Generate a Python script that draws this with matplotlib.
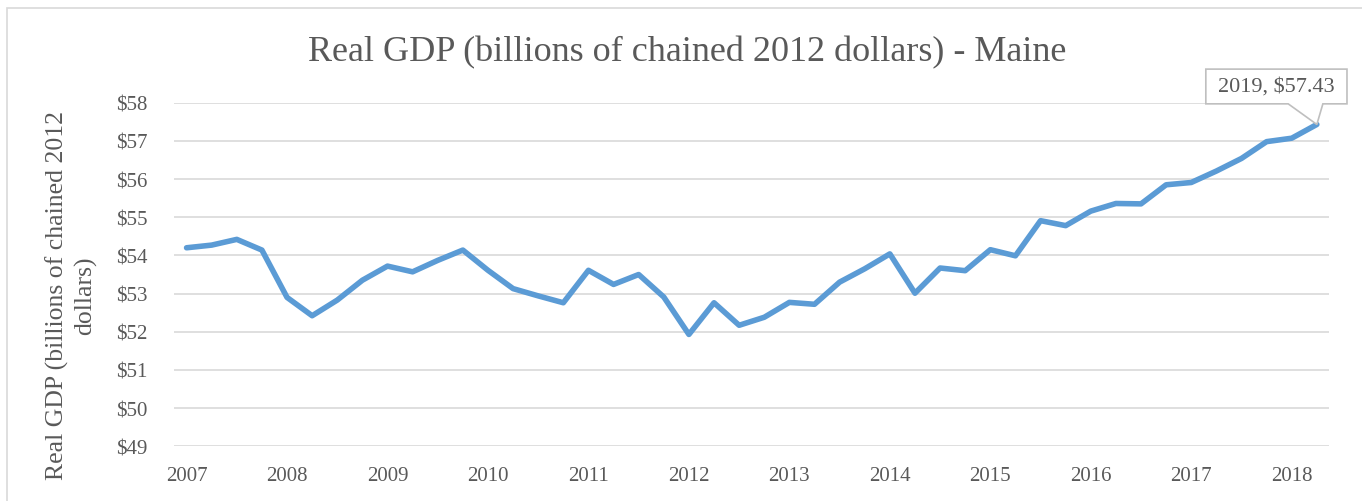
import matplotlib
matplotlib.use("Agg")
import matplotlib.pyplot as plt
from matplotlib.patches import Polygon, Rectangle

# quarterly real GDP, 2007 Q1 .. 2018 Q2
years = ["2007", "2008", "2009", "2010", "2011", "2012",
         "2013", "2014", "2015", "2016", "2017", "2018"]
gdp = [54.20, 54.27, 54.42, 54.14, 52.90, 52.42, 52.83, 53.35,
       53.72, 53.57, 53.87, 54.14, 53.61, 53.13, 52.94, 52.76,
       53.61, 53.24, 53.50, 52.91, 51.93, 52.76, 52.17, 52.38,
       52.77, 52.72, 53.30, 53.65, 54.04, 53.01, 53.67, 53.60,
       54.15, 53.99, 54.91, 54.78, 55.16, 55.36, 55.35, 55.85,
       55.91, 56.21, 56.54, 56.98, 57.07, 57.43]
yticks = [49, 50, 51, 52, 53, 54, 55, 56, 57, 58]
last_label = "2019, $57.43"

grey = "#595959"
plt.rcParams['font.family'] = ['Liberation Serif', 'DejaVu Serif']

fig = plt.figure(figsize=(13.62, 5.02), dpi=100)
ax = fig.add_axes([174 / 1362, 1 - 447.3 / 502,
                   (1329.4 - 174) / 1362, (447.3 - 103.7) / 502])

x = list(range(len(gdp)))
ax.plot(x, gdp, color="#5B9BD5", lw=4.0, solid_capstyle="round",
        solid_joinstyle="round", zorder=3)

ax.set_xlim(-0.5, len(gdp) - 0.5)
ax.set_ylim(yticks[0], yticks[-1])
ax.set_yticks(yticks)
ax.set_yticklabels([f"${v}" for v in yticks])
ax.set_xticks(range(0, 4 * len(years), 4))
ax.set_xticklabels(years)
ax.tick_params(axis="both", length=0, labelsize=15, colors=grey)
ax.tick_params(axis="x", pad=14)
ax.tick_params(axis="y", pad=19)
ax.grid(axis="y", color="#d9d9d9", lw=1.2)
ax.set_axisbelow(True)
for s in ax.spines.values():
    s.set_visible(False)

# y axis title, placed as in the reference
fig.text(71 / 1362, 1 - 296 / 502,
         "Real GDP (billions of chained 2012\ndollars)", rotation=90,
         ha="center", va="center", multialignment="center",
         fontsize=18.5, color=grey, linespacing=1.3)
fig.text(0.5045, 0.895, "Real GDP (billions of chained 2012 dollars) - Maine",
         ha="center", va="center", fontsize=26, color=grey)

# callout for the last point
tx, ty = x[-1], gdp[-1]
bx0, bx1 = tx - 4.42, tx + 1.2
by0, by1 = ty + 0.54, ty + 1.45
callout = Polygon([(bx0, by0), (bx0, by1), (bx1, by1), (bx1, by0),
                   (tx + 0.24, by0), (tx, ty), (tx - 1.14, by0)],
                  closed=True, facecolor="white", edgecolor="#bfbfbf",
                  lw=1.2, clip_on=False, zorder=4)
ax.add_patch(callout)
ax.text((bx0 + bx1) / 2, (by0 + by1) / 2, last_label, ha="center",
        va="center", fontsize=16, color=grey, zorder=5, clip_on=False)

# outer chart border
fig.patches.append(Rectangle((7 / 1362, -0.02), 1.02, 1 - 9 / 502 + 0.02,
                             transform=fig.transFigure, fill=False,
                             edgecolor="#d9d9d9", lw=1.2))

fig.savefig("out.png", dpi=100)
